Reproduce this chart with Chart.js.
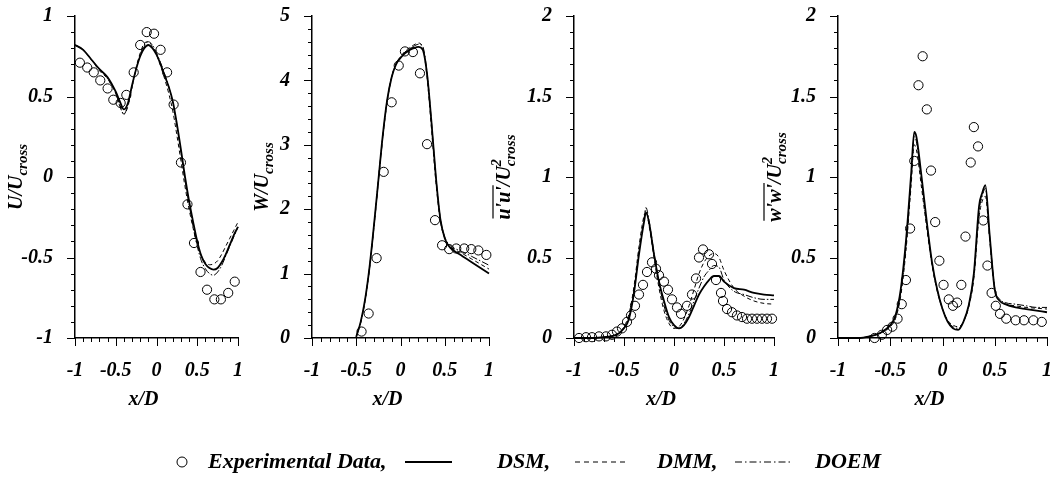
<!DOCTYPE html>
<html>
<head>
<meta charset="utf-8">
<script src="https://cdn.jsdelivr.net/npm/chart.js@4/dist/chart.umd.min.js"></script>
<style>
  body { margin: 0; width: 1055px; height: 479px; background: #fff; overflow: hidden; position: relative; }
  .panel { position: absolute; top: 0; height: 420px; }
  .legend { position: absolute; top: 450px; height: 24px; font: bold italic 22px "Liberation Serif"; line-height: 22px; color: #000; white-space: nowrap; }
</style>
</head>
<body>
<div class="panel" style="left:0px;width:248px"><canvas id="c1"></canvas></div>
<div class="panel" style="left:236px;width:263px"><canvas id="c2"></canvas></div>
<div class="panel" style="left:484px;width:300px"><canvas id="c3"></canvas></div>
<div class="panel" style="left:756px;width:301px"><canvas id="c4"></canvas></div>

<svg style="position:absolute;left:0;top:0" width="1055" height="479">
  <circle cx="182" cy="462" r="5" fill="none" stroke="#000" stroke-width="1"/>
  <line x1="405" y1="462" x2="452" y2="462" stroke="#000" stroke-width="2"/>
  <line x1="575" y1="462" x2="625" y2="462" stroke="#000" stroke-width="1" stroke-dasharray="5,4"/>
  <line x1="735" y1="462" x2="790" y2="462" stroke="#000" stroke-width="1" stroke-dasharray="7,3,1.5,3"/>
</svg>
<div class="legend" style="left:208px">Experimental Data,</div>
<div class="legend" style="left:497px">DSM,</div>
<div class="legend" style="left:657px">DMM,</div>
<div class="legend" style="left:815px">DOEM</div>

<script>
// ---- U/Ucross ----
const uExpX = [-0.94, -0.85, -0.77, -0.69, -0.60, -0.53, -0.44, -0.37, -0.28, -0.20, -0.12, -0.03, 0.05, 0.13, 0.21, 0.30, 0.38, 0.46, 0.54, 0.62, 0.71, 0.79, 0.88, 0.96];
const uExpY = [0.71, 0.68, 0.65, 0.60, 0.55, 0.48, 0.46, 0.51, 0.65, 0.82, 0.90, 0.89, 0.79, 0.65, 0.45, 0.09, -0.17, -0.41, -0.59, -0.70, -0.76, -0.76, -0.72, -0.65];
const uLineX = [-1, -0.9, -0.8, -0.7, -0.6, -0.5, -0.45, -0.4, -0.35, -0.3, -0.25, -0.2, -0.15, -0.1, -0.05, 0, 0.05, 0.1, 0.15, 0.2, 0.25, 0.3, 0.35, 0.4, 0.45, 0.5, 0.55, 0.6, 0.65, 0.7, 0.75, 0.8, 0.85, 0.9, 0.95, 1];
const uDSM  = [0.82, 0.79, 0.73, 0.67, 0.62, 0.53, 0.47, 0.42, 0.46, 0.57, 0.67, 0.75, 0.80, 0.82, 0.80, 0.76, 0.70, 0.63, 0.56, 0.47, 0.33, 0.17, 0.00, -0.15, -0.28, -0.40, -0.49, -0.54, -0.565, -0.575, -0.565, -0.53, -0.48, -0.42, -0.36, -0.31];
const uDMM  = [0.82, 0.79, 0.73, 0.66, 0.61, 0.52, 0.45, 0.39, 0.44, 0.56, 0.68, 0.77, 0.83, 0.84, 0.81, 0.76, 0.69, 0.61, 0.52, 0.41, 0.26, 0.10, -0.06, -0.20, -0.32, -0.42, -0.49, -0.53, -0.545, -0.54, -0.52, -0.48, -0.43, -0.38, -0.33, -0.28];
const uDOEM = [0.82, 0.79, 0.73, 0.67, 0.61, 0.52, 0.44, 0.39, 0.45, 0.56, 0.67, 0.76, 0.82, 0.84, 0.82, 0.77, 0.71, 0.64, 0.56, 0.46, 0.32, 0.15, -0.02, -0.17, -0.31, -0.43, -0.52, -0.57, -0.60, -0.61, -0.59, -0.55, -0.49, -0.43, -0.37, -0.31];

// ---- W/Ucross ----
const wExpX = [-0.44, -0.36, -0.27, -0.19, -0.10, -0.02, 0.05, 0.14, 0.22, 0.30, 0.39, 0.47, 0.55, 0.63, 0.72, 0.80, 0.88, 0.97];
const wExpY = [0.10, 0.38, 1.24, 2.58, 3.66, 4.23, 4.45, 4.44, 4.11, 3.01, 1.83, 1.44, 1.38, 1.39, 1.39, 1.38, 1.36, 1.29];
const wLineX = [-0.5, -0.45, -0.4, -0.35, -0.3, -0.25, -0.2, -0.15, -0.1, -0.05, 0, 0.05, 0.1, 0.15, 0.2, 0.25, 0.3, 0.35, 0.4, 0.45, 0.5, 0.55, 0.6, 0.7, 0.8, 0.9, 1];
const wDSM  = [0.02, 0.25, 0.60, 1.10, 1.75, 2.45, 3.15, 3.70, 4.05, 4.25, 4.35, 4.42, 4.47, 4.50, 4.52, 4.48, 4.10, 3.35, 2.50, 1.85, 1.55, 1.42, 1.36, 1.27, 1.18, 1.09, 1.00];
const wDMM  = [0.02, 0.24, 0.58, 1.08, 1.72, 2.43, 3.12, 3.68, 4.05, 4.26, 4.37, 4.45, 4.51, 4.55, 4.58, 4.52, 4.05, 3.25, 2.42, 1.82, 1.55, 1.43, 1.38, 1.31, 1.23, 1.15, 1.07];
const wDOEM = [0.02, 0.24, 0.59, 1.09, 1.73, 2.44, 3.13, 3.69, 4.05, 4.26, 4.36, 4.44, 4.49, 4.53, 4.56, 4.53, 4.12, 3.35, 2.50, 1.86, 1.57, 1.45, 1.40, 1.34, 1.27, 1.20, 1.13];

// ---- u'u'/Ucross^2 ----
const uuExpX = [-0.95, -0.88, -0.82, -0.75, -0.68, -0.62, -0.57, -0.52, -0.47, -0.43, -0.39, -0.35, -0.31, -0.27, -0.22, -0.18, -0.15, -0.10, -0.06, -0.02, 0.03, 0.07, 0.13, 0.18, 0.22, 0.25, 0.29, 0.35, 0.38, 0.42, 0.47, 0.49, 0.53, 0.58, 0.63, 0.68, 0.73, 0.78, 0.83, 0.88, 0.93, 0.98];
const uuExpY = [0.00, 0.005, 0.005, 0.01, 0.01, 0.02, 0.04, 0.06, 0.10, 0.14, 0.20, 0.27, 0.33, 0.41, 0.47, 0.43, 0.39, 0.35, 0.30, 0.24, 0.19, 0.15, 0.20, 0.27, 0.37, 0.50, 0.55, 0.52, 0.46, 0.36, 0.28, 0.23, 0.18, 0.16, 0.14, 0.13, 0.12, 0.12, 0.12, 0.12, 0.12, 0.12];
const uuLineX = [-1, -0.8, -0.7, -0.6, -0.55, -0.5, -0.45, -0.4, -0.35, -0.3, -0.28, -0.25, -0.2, -0.15, -0.1, -0.05, 0, 0.05, 0.1, 0.15, 0.2, 0.25, 0.3, 0.35, 0.4, 0.45, 0.5, 0.6, 0.7, 0.8, 0.9, 1];
const uuDSM  = [0, 0, 0.005, 0.015, 0.03, 0.06, 0.12, 0.28, 0.52, 0.72, 0.78, 0.72, 0.52, 0.35, 0.23, 0.13, 0.08, 0.06, 0.08, 0.13, 0.20, 0.27, 0.32, 0.36, 0.385, 0.385, 0.35, 0.31, 0.30, 0.28, 0.27, 0.265];
const uuDMM  = [0, 0, 0.005, 0.015, 0.03, 0.07, 0.15, 0.32, 0.57, 0.76, 0.79, 0.70, 0.50, 0.31, 0.17, 0.09, 0.06, 0.07, 0.12, 0.20, 0.30, 0.40, 0.47, 0.51, 0.525, 0.50, 0.42, 0.31, 0.26, 0.23, 0.215, 0.21];
const uuDOEM = [0, 0, 0.005, 0.015, 0.03, 0.065, 0.13, 0.30, 0.54, 0.74, 0.81, 0.73, 0.53, 0.34, 0.20, 0.11, 0.07, 0.06, 0.09, 0.15, 0.23, 0.31, 0.38, 0.42, 0.45, 0.44, 0.36, 0.29, 0.27, 0.25, 0.24, 0.24];

// ---- w'w'/Ucross^2 ----
const wwExpX = [-0.65, -0.58, -0.53, -0.48, -0.43, -0.39, -0.35, -0.31, -0.27, -0.23, -0.19, -0.15, -0.11, -0.07, -0.03, 0.01, 0.06, 0.10, 0.14, 0.18, 0.22, 0.27, 0.30, 0.34, 0.39, 0.43, 0.47, 0.51, 0.55, 0.61, 0.70, 0.78, 0.87, 0.95];
const wwExpY = [0.00, 0.02, 0.05, 0.07, 0.12, 0.21, 0.36, 0.68, 1.10, 1.57, 1.75, 1.42, 1.04, 0.72, 0.48, 0.33, 0.24, 0.20, 0.22, 0.33, 0.63, 1.09, 1.31, 1.19, 0.73, 0.45, 0.28, 0.20, 0.15, 0.12, 0.11, 0.11, 0.11, 0.10];
const wwLineX = [-1, -0.8, -0.7, -0.6, -0.5, -0.45, -0.4, -0.35, -0.3, -0.27, -0.25, -0.2, -0.15, -0.1, -0.05, 0, 0.05, 0.1, 0.15, 0.2, 0.25, 0.3, 0.35, 0.38, 0.41, 0.45, 0.5, 0.55, 0.6, 0.7, 0.8, 0.9, 1];
const wwDSM  = [0, 0, 0.01, 0.03, 0.08, 0.14, 0.30, 0.60, 1.02, 1.28, 1.25, 1.00, 0.72, 0.47, 0.30, 0.18, 0.10, 0.06, 0.05, 0.10, 0.20, 0.40, 0.82, 0.90, 0.95, 0.65, 0.30, 0.23, 0.21, 0.19, 0.18, 0.17, 0.16];
const wwDMM  = [0, 0, 0.01, 0.03, 0.07, 0.12, 0.26, 0.54, 0.95, 1.20, 1.17, 0.93, 0.68, 0.45, 0.29, 0.18, 0.11, 0.08, 0.07, 0.10, 0.19, 0.37, 0.75, 0.85, 0.88, 0.62, 0.30, 0.23, 0.21, 0.20, 0.19, 0.185, 0.18];
const wwDOEM = [0, 0, 0.01, 0.03, 0.075, 0.13, 0.28, 0.57, 0.99, 1.25, 1.22, 0.97, 0.70, 0.46, 0.30, 0.18, 0.105, 0.07, 0.06, 0.10, 0.20, 0.39, 0.79, 0.88, 0.93, 0.64, 0.31, 0.24, 0.22, 0.21, 0.20, 0.19, 0.19];

const FONT = 'Liberation Serif';

const pts = (xs, ys) => xs.map((x, i) => ({ x, y: ys[i] }));

// Tick marks (long on labelled ticks, short otherwise) and the y-axis title with sub/superscripts
const axisDecor = {
    id: 'axisDecor',
    afterDraw(chart, args, opts) {
        const ctx = chart.ctx;
        const xs = chart.scales.x;
        const ys = chart.scales.y;
        ctx.save();
        ctx.strokeStyle = '#000';
        ctx.lineWidth = 1;
        ys.ticks.forEach(t => {
            const py = Math.round(ys.getPixelForValue(t.value)) + 0.5;
            const len = opts.yMajor(t.value) ? 8 : 4;
            ctx.beginPath();
            ctx.moveTo(ys.right - len, py);
            ctx.lineTo(ys.right, py);
            ctx.stroke();
        });
        xs.ticks.forEach(t => {
            const px = Math.round(xs.getPixelForValue(t.value)) + 0.5;
            const len = isHalf(t.value) ? 8 : 4;
            ctx.beginPath();
            ctx.moveTo(px, xs.top);
            ctx.lineTo(px, xs.top + len);
            ctx.stroke();
        });

        // x title
        ctx.fillStyle = '#000';
        ctx.font = `bold italic 20px "${FONT}"`;
        ctx.textAlign = 'center';
        ctx.textBaseline = 'alphabetic';
        ctx.fillText('x/D', (chart.chartArea.left + chart.chartArea.right) / 2 - 13, 405);

        // rotated y title
        const parts = opts.title;
        ctx.translate(opts.titleX, (chart.chartArea.top + chart.chartArea.bottom) / 2);
        ctx.rotate(-Math.PI / 2);
        ctx.textAlign = 'left';
        let total = 0;
        parts.forEach(p => {
            ctx.font = `bold italic ${p.size}px "${FONT}"`;
            p.w = ctx.measureText(p.text).width;
            if (!p.stack) total += p.w;
        });
        let cx = -total / 2;
        parts.forEach(p => {
            ctx.font = `bold italic ${p.size}px "${FONT}"`;
            ctx.fillText(p.text, cx, p.dy || 0);
            if (p.over) {
                ctx.beginPath();
                ctx.lineWidth = 1.2;
                ctx.moveTo(cx + 1, -17);
                ctx.lineTo(cx + p.w + 1, -17);
                ctx.stroke();
            }
            if (!p.stack) cx += p.w;
        });
        ctx.restore();
    }
};

function isHalf(v) {
    return Math.abs(v * 2 - Math.round(v * 2)) < 1e-6;
}
function isWhole(v) {
    return Math.abs(v - Math.round(v)) < 1e-6;
}
function fmt(v) {
    const r = Math.round(v * 2) / 2;
    return r === 0 ? '0' : String(r);
}

function makePanel(canvasId, cfg) {
    const ctx = document.getElementById(canvasId).getContext('2d');
    const tickFont = { family: FONT, size: 20, style: 'italic', weight: 'bold' };
    return new Chart(ctx, {
        type: 'scatter',
        data: {
            datasets: [
                {
                    label: 'Experimental Data',
                    data: pts(cfg.expX, cfg.expY),
                    pointStyle: 'circle',
                    pointRadius: 4.6,
                    borderColor: '#000',
                    borderWidth: 1,
                    backgroundColor: 'rgba(0,0,0,0)',
                    order: 0
                },
                {
                    label: 'DSM',
                    data: pts(cfg.lineX, cfg.dsm),
                    showLine: true,
                    borderColor: '#000',
                    borderWidth: 1.8,
                    pointRadius: 0,
                    cubicInterpolationMode: 'monotone',
                    order: 1
                },
                {
                    label: 'DMM',
                    data: pts(cfg.lineX, cfg.dmm),
                    showLine: true,
                    borderColor: '#000',
                    borderWidth: 1,
                    borderDash: [4, 3],
                    pointRadius: 0,
                    cubicInterpolationMode: 'monotone',
                    order: 2
                },
                {
                    label: 'DOEM',
                    data: pts(cfg.lineX, cfg.doem),
                    showLine: true,
                    borderColor: '#000',
                    borderWidth: 1,
                    borderDash: [7, 2, 1.5, 2],
                    pointRadius: 0,
                    cubicInterpolationMode: 'monotone',
                    order: 3
                }
            ]
        },
        options: {
            responsive: true,
            maintainAspectRatio: false,
            animation: false,
            events: [],
            clip: false,
            layout: { padding: { top: 16, right: 10, left: 0, bottom: 0 } },
            plugins: {
                legend: { display: false },
                tooltip: { enabled: false },
                axisDecor: { title: cfg.title, titleX: cfg.titleX, yMajor: cfg.yMajor }
            },
            scales: {
                x: {
                    type: 'linear',
                    min: -1,
                    max: 1,
                    afterFit: s => {
                        s.height = 82;
                        s.paddingLeft = 0;
                        s.paddingRight = 0;
                    },
                    grid: { display: false },
                    border: { display: true, color: '#000', width: 1.5 },
                    ticks: {
                        stepSize: 0.1,
                        autoSkip: false,
                        maxRotation: 0,
                        padding: 13,
                        color: '#000',
                        font: tickFont,
                        callback: v => isHalf(v) ? fmt(v) : ''
                    }
                },
                y: {
                    type: 'linear',
                    min: cfg.yMin,
                    max: cfg.yMax,
                    afterFit: s => {
                        s.width = cfg.yWidth;
                        s.paddingTop = 0;
                        s.paddingBottom = 0;
                    },
                    grid: { display: false },
                    border: { display: true, color: '#000', width: 1.5 },
                    ticks: {
                        stepSize: cfg.yStep,
                        autoSkip: false,
                        padding: 14,
                        color: '#000',
                        font: tickFont,
                        callback: v => cfg.yMajor(v) ? fmt(v) : ''
                    }
                }
            }
        },
        plugins: [axisDecor]
    });
}

makePanel('c1', {
    expX: uExpX, expY: uExpY, lineX: uLineX, dsm: uDSM, dmm: uDMM, doem: uDOEM,
    yMin: -1, yMax: 1, yStep: 0.1, yMajor: isHalf, yWidth: 75, titleX: 22,
    title: [{ text: 'U/U', size: 20 }, { text: 'cross', size: 15, dy: 5 }]
});
makePanel('c2', {
    expX: wExpX, expY: wExpY, lineX: wLineX, dsm: wDSM, dmm: wDMM, doem: wDOEM,
    yMin: 0, yMax: 5, yStep: 0.2, yMajor: isWhole, yWidth: 76, titleX: 32,
    title: [{ text: 'W/U', size: 20 }, { text: 'cross', size: 15, dy: 5 }]
});
makePanel('c3', {
    expX: uuExpX, expY: uuExpY, lineX: uuLineX, dsm: uuDSM, dmm: uuDMM, doem: uuDOEM,
    yMin: 0, yMax: 2, yStep: 0.1, yMajor: isHalf, yWidth: 90, titleX: 26,
    title: [{ text: "u'u'", size: 20, over: true }, { text: '/U', size: 20 }, { text: '2', size: 14, dy: -9, stack: true }, { text: 'cross', size: 15, dy: 5 }]
});
makePanel('c4', {
    expX: wwExpX, expY: wwExpY, lineX: wwLineX, dsm: wwDSM, dmm: wwDMM, doem: wwDOEM,
    yMin: 0, yMax: 2, yStep: 0.1, yMajor: isHalf, yWidth: 82, titleX: 25,
    title: [{ text: "w'w'", size: 20, over: true }, { text: '/U', size: 20 }, { text: '2', size: 14, dy: -9, stack: true }, { text: 'cross', size: 15, dy: 5 }]
});
</script>
</body>
</html>
